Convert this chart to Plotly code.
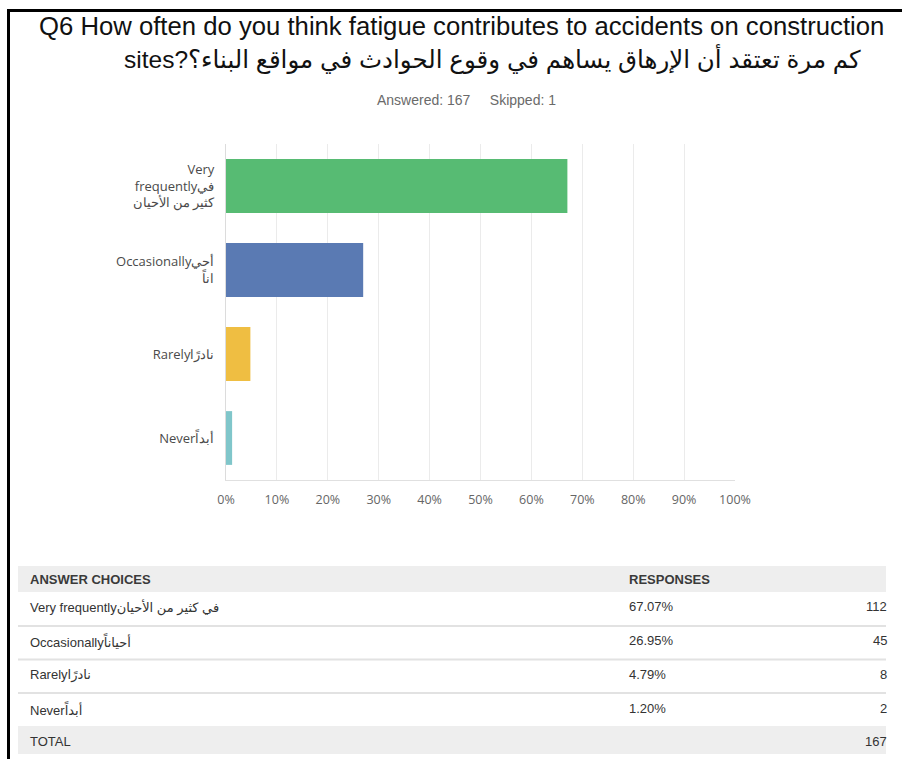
import plotly.graph_objects as go

# ---- data ----
categories = [
    "Very<br>frequentlyفي<br>كثير من الأحيان",
    "Occasionallyأحي<br>اناً",
    "Rarelyنادرًا",
    "Neverأبداً",
]
percents = [67.07, 26.95, 4.79, 1.20]
counts = [112, 45, 8, 2]
bar_colors = ["#57bb73", "#5a7ab3", "#efbe42", "#80c6ca"]
table_choices = [
    "Very frequentlyفي كثير من الأحيان",
    "Occasionallyأحياناً",
    "Rarelyنادرًا",
    "Neverأبداً",
]
table_pct_labels = ["67.07%", "26.95%", "4.79%", "1.20%"]
total = 167
answered = 167
skipped = 1
x_ticks = [0, 10, 20, 30, 40, 50, 60, 70, 80, 90, 100]
title_line1 = "Q6 How often do you think fatigue contributes to accidents on construction"
title_line2 = "sites?كم مرة تعتقد أن الإرهاق يساهم في وقوع الحوادث في مواقع البناء؟"

# ---- layout geometry (pixels) ----
W, H = 902, 759
L, R, T, B = 226, 167, 144, 279
PW, PH = W - L - R, H - T - B


def px(x):
    return (x - L) / PW


def py(y):
    return (H - B - y) / PH


fig = go.Figure()
fig.add_trace(go.Bar(
    y=categories,
    x=percents,
    orientation="h",
    marker=dict(color=bar_colors, line=dict(width=0)),
    hoverinfo="skip",
    width=0.64,
))

shapes = []
annotations = []

# frame
shapes.append(dict(type="line", xref="paper", yref="paper",
                   x0=px(7), x1=px(902), y0=py(10.5), y1=py(10.5),
                   line=dict(color="black", width=3)))
shapes.append(dict(type="line", xref="paper", yref="paper",
                   x0=px(8.5), x1=px(8.5), y0=py(9), y1=py(759),
                   line=dict(color="black", width=3)))

# title
annotations.append(dict(xref="paper", yref="paper", x=px(461), y=py(26),
                        text=title_line1, showarrow=False,
                        xanchor="center", yanchor="middle",
                        font=dict(family="Liberation Sans, DejaVu Sans", size=25.7, color="#111")))
annotations.append(dict(xref="paper", yref="paper", x=px(492), y=py(59),
                        text=title_line2, showarrow=False,
                        xanchor="center", yanchor="middle",
                        font=dict(family="Liberation Sans, DejaVu Sans", size=24.5, color="#111")))
annotations.append(dict(xref="paper", yref="paper", x=px(466), y=py(100),
                        text=f"Answered: {answered}\u00a0\u00a0\u00a0\u00a0\u00a0Skipped: {skipped}",
                        showarrow=False, xanchor="center", yanchor="middle",
                        font=dict(family="Liberation Sans", size=14, color="#6a6a6a")))

# table
tx0, tx1 = 18, 886
shapes.append(dict(type="rect", xref="paper", yref="paper", layer="below",
                   x0=px(tx0), x1=px(tx1), y0=py(566), y1=py(592),
                   fillcolor="#eeeeee", line=dict(width=0)))
shapes.append(dict(type="rect", xref="paper", yref="paper", layer="below",
                   x0=px(tx0), x1=px(tx1), y0=py(726), y1=py(754),
                   fillcolor="#eeeeee", line=dict(width=0)))
for sy in [626, 659.5, 693]:
    shapes.append(dict(type="line", xref="paper", yref="paper",
                       x0=px(tx0), x1=px(tx1), y0=py(sy), y1=py(sy),
                       line=dict(color="#e2e2e2", width=2)))

tfont = dict(family="Liberation Sans, DejaVu Sans", size=13, color="#333")
hfont = dict(family="Liberation Sans", size=13, color="#3a3a3a")
annotations.append(dict(xref="paper", yref="paper", x=px(28), y=py(579),
                        text="<b>ANSWER CHOICES</b>", showarrow=False,
                        xanchor="left", yanchor="middle", font=hfont))
annotations.append(dict(xref="paper", yref="paper", x=px(627), y=py(579),
                        text="<b>RESPONSES</b>", showarrow=False,
                        xanchor="left", yanchor="middle", font=hfont))
row_y = [606, 640, 674, 708]
for i in range(len(table_choices)):
    annotations.append(dict(xref="paper", yref="paper", x=px(28), y=py(row_y[i] + 1),
                            text=table_choices[i], showarrow=False,
                            xanchor="left", yanchor="middle", font=tfont))
    annotations.append(dict(xref="paper", yref="paper", x=px(627), y=py(row_y[i]),
                            text=table_pct_labels[i], showarrow=False,
                            xanchor="left", yanchor="middle", font=tfont))
    annotations.append(dict(xref="paper", yref="paper", x=px(889), y=py(row_y[i]),
                            text=str(counts[i]), showarrow=False,
                            xanchor="right", yanchor="middle", font=tfont))
annotations.append(dict(xref="paper", yref="paper", x=px(28), y=py(741),
                        text="TOTAL", showarrow=False,
                        xanchor="left", yanchor="middle", font=tfont))
annotations.append(dict(xref="paper", yref="paper", x=px(889), y=py(741),
                        text=str(total), showarrow=False,
                        xanchor="right", yanchor="middle", font=tfont))

fig.update_layout(
    width=W, height=H,
    margin=dict(l=L, r=R, t=T, b=B, pad=0),
    paper_bgcolor="white", plot_bgcolor="white",
    showlegend=False,
    shapes=shapes,
    annotations=annotations,
    xaxis=dict(
        range=[0, 100], tickvals=x_ticks,
        ticktext=[f"{v}%" for v in x_ticks],
        showgrid=True, gridcolor="#ebebeb", gridwidth=1,
        showline=True, linecolor="#e0e0e0", linewidth=1,
        zeroline=False, ticks="", ticklabelstandoff=8,
        tickfont=dict(family="Open Sans", size=12.5, color="#666"),
        fixedrange=True,
    ),
    yaxis=dict(
        autorange="reversed",
        showgrid=False, showline=True, linecolor="#dcdcdc", linewidth=1,
        ticks="", ticklabelstandoff=8,
        tickfont=dict(family="Open Sans", size=13, color="#4a4a4a"),
        fixedrange=True,
    ),
)

fig.write_html("out.html")
